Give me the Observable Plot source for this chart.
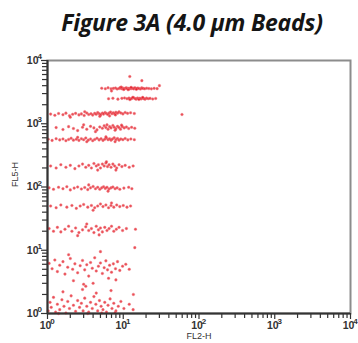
<!DOCTYPE html>
<html><head><meta charset="utf-8">
<script src="https://cdn.jsdelivr.net/npm/d3@7"></script>
<script src="https://cdn.jsdelivr.net/npm/@observablehq/plot@0.6"></script>
<style>
body{margin:0;background:#fff;}
#title{height:45px;width:358px;position:relative;overflow:visible;}
#title span{position:absolute;left:0;width:384px;top:10px;text-align:center;font:italic bold 23px "Open Sans","Liberation Sans",sans-serif;color:#151515;line-height:24px;white-space:nowrap;letter-spacing:-0.2px;}
</style></head><body>
<div id="title"><span>Figure 3A (4.0 µm Beads)</span></div>
<div id="chart"></div>
<script>
const majorTicks = [1, 10, 100, 1000, 10000];
const tickBase = "10";
const tickExponents = ["0", "1", "2", "3", "4"];
const minorTicks = [2,3,4,5,6,7,8,9,20,30,40,50,60,70,80,90,200,300,400,500,600,700,800,900,2000,3000,4000,5000,6000,7000,8000,9000];
const xLabel = "FL2-H";
const yLabel = "FL5-H";

const popA = [[5.2,3650],[5.8,3580],[6.3,3700],[6.9,3560],[7.4,3620],[7.9,3680],[8.3,3540],[8.8,3610],[9.1,3720],[9.5,3590],[9.9,3660],[10.3,3530],[10.6,3640],[11.0,3700],[11.3,3580],[11.8,3620],[12.1,3540],[12.5,3680],[12.9,3600],[13.4,3650],[13.8,3560],[14.2,3710],[14.7,3620],[15.1,3580],[15.6,3660],[16.2,3600],[16.9,3540],[17.5,3690],[18.3,3620],[19.2,3570],[20.4,3650],[21.8,3600],[23.5,3560],[25.6,3630],[28.0,3590],[10.1,3480],[12.7,3760],[14.9,3500],[9.4,3800],[11.6,3450],[12.2,5580],[17.6,4800],[30,4000],[7.0,3300]];
const popB = [[6.4,2480],[7.3,2530],[8.5,2450],[9.6,2520],[10.4,2560],[11.2,2490],[11.9,2540],[12.6,2470],[13.1,2530],[13.7,2580],[14.3,2500],[14.8,2450],[15.4,2550],[15.9,2490],[16.6,2530],[17.2,2470],[17.9,2560],[18.6,2500],[19.4,2450],[20.3,2540],[21.4,2490],[22.6,2520],[24.5,2460],[26.8,2510],[13.4,2620],[16.1,2420],[18.1,2610],[12.2,2410]];
const popC = [[1.1,1420],[1.25,1360],[1.4,1450],[1.6,1390],[1.75,1470],[1.95,1340],[2.15,1410],[2.35,1460],[2.6,1380],[2.8,1430],[3.05,1350],[3.3,1480],[3.5,1400],[3.75,1440],[3.95,1370],[4.2,1460],[4.4,1410],[4.6,1500],[4.85,1430],[5.05,1380],[5.3,1470],[5.5,1420],[5.75,1510],[6.0,1450],[6.25,1400],[6.5,1480],[6.8,1530],[7.1,1440],[7.4,1490],[7.7,1420],[8.0,1520],[8.4,1470],[8.8,1540],[9.3,1480],[9.9,1430],[10.6,1510],[11.4,1460],[12.5,1490],[14.0,1450],[4.9,1310],[6.6,1330],[3.1,1550],[7.9,1380],[2.0,1270],[59.6,1400]];
const popD = [[1.3,870],[1.6,810],[1.9,900],[2.2,840],[2.5,780],[2.9,880],[3.3,820],[3.7,910],[4.1,860],[4.5,800],[4.9,890],[5.3,850],[5.6,930],[5.9,870],[6.3,820],[6.6,900],[6.9,860],[7.3,940],[7.6,880],[8.0,830],[8.4,910],[8.8,870],[9.2,820],[9.7,900],[10.3,860],[11.0,890],[11.8,840],[12.9,880],[14.2,850],[6.1,960],[7.8,790],[3.0,960],[4.3,750],[9.5,950]];
const popE = [[1.02,570],[1.15,545],[1.3,580],[1.45,555],[1.6,575],[1.75,540],[1.9,565],[2.05,590],[2.2,550],[2.4,570],[2.6,545],[2.8,580],[3.0,560],[3.2,595],[3.45,550],[3.7,575],[3.95,540],[4.2,565],[4.5,590],[4.8,555],[5.1,580],[5.4,545],[5.7,570],[6.0,595],[6.3,560],[6.6,580],[6.9,550],[7.2,575],[7.6,600],[8.0,560],[8.4,585],[8.8,550],[9.3,575],[9.9,560],[10.6,585],[11.5,555],[12.6,575],[14.0,560],[3.3,520],[5.9,620],[7.8,520],[2.5,610]];
const popF = [[1.1,215],[1.3,200],[1.5,225],[1.75,205],[2.0,220],[2.3,195],[2.6,215],[2.9,230],[3.2,205],[3.5,220],[3.8,200],[4.1,235],[4.4,215],[4.7,225],[5.0,200],[5.3,230],[5.6,215],[5.9,240],[6.2,210],[6.5,225],[6.9,205],[7.3,230],[7.7,215],[8.2,200],[8.8,225],[9.6,210],[10.6,220],[12.0,205],[13.5,215],[4.6,185],[6.0,250],[8.0,185]];
const popG = [[1.05,97],[1.2,92],[1.4,99],[1.6,94],[1.8,101],[2.0,90],[2.25,96],[2.5,100],[2.8,93],[3.1,98],[3.4,91],[3.7,97],[4.0,102],[4.3,94],[4.6,99],[4.9,92],[5.2,97],[5.5,101],[5.8,95],[6.1,99],[6.5,93],[6.9,97],[7.3,100],[7.8,94],[8.3,97],[9.0,92],[10.2,96],[11.8,99],[13.0,94],[3.5,108],[6.3,86]];
const popH = [[1.1,50],[1.3,47],[1.5,52],[1.8,48],[2.1,51],[2.4,46],[2.7,50],[3.0,53],[3.4,48],[3.8,51],[4.2,47],[4.6,50],[5.0,54],[5.4,49],[5.9,52],[6.4,47],[6.9,51],[7.5,48],[8.2,52],[9.0,49],[10.0,51],[11.2,48],[12.5,50],[4.0,43],[7.0,56]];
const popI = [[1.05,22],[1.2,20],[1.35,23],[1.5,19.5],[1.7,21.5],[1.9,24],[2.1,20],[2.35,22.5],[2.6,19],[2.9,21],[3.2,23.5],[3.5,20.5],[3.8,22],[4.1,19],[4.4,24],[4.7,21],[5.0,22.5],[5.3,19.5],[5.7,23],[6.1,20.5],[6.5,22],[7.0,24],[7.5,20],[8.1,21.5],[8.8,23],[9.8,20.5],[11.0,22],[14.5,21.5],[2.5,17],[4.8,17.5],[3.3,26]];
const popJ = [[1.05,6.2],[1.15,5.1],[1.25,7.0],[1.35,4.6],[1.45,5.8],[1.6,6.6],[1.7,4.2],[1.85,5.4],[2.0,7.4],[2.15,5.0],[2.3,6.1],[2.5,4.4],[2.7,5.7],[2.9,6.9],[3.1,4.9],[3.3,5.9],[3.5,3.9],[3.7,6.4],[3.9,5.2],[4.2,7.6],[4.4,4.7],[4.7,5.6],[5.0,6.3],[5.3,4.3],[5.6,5.3],[5.9,6.8],[6.2,4.9],[6.6,5.8],[7.0,4.5],[7.4,6.1],[7.9,5.1],[8.4,6.6],[9.0,4.8],[9.8,5.6],[10.8,6.0],[12.0,5.0],[2.2,3.3],[4.0,3.0],[6.4,3.6],[1.9,8.5],[3.2,2.7],[8.0,3.4],[5.0,9.5],[14.2,11]];
const popK = [[1.02,1.1],[1.08,1.5],[1.12,1.25],[1.2,1.8],[1.28,1.05],[1.35,1.4],[1.45,1.15],[1.55,1.65],[1.65,1.3],[1.75,1.02],[1.85,1.55],[1.95,1.2],[2.05,1.9],[2.2,1.35],[2.35,1.08],[2.5,1.6],[2.65,1.25],[2.8,1.45],[2.95,1.1],[3.1,1.75],[3.3,1.3],[3.5,1.05],[3.7,1.5],[3.9,1.2],[4.1,1.85],[4.35,1.4],[4.6,1.1],[4.85,1.6],[5.1,1.3],[5.4,1.15],[5.7,1.5],[6.0,1.05],[6.3,1.35],[6.7,1.7],[7.1,1.2],[7.5,1.45],[8.0,1.1],[8.6,1.3],[9.3,1.55],[10.2,1.2],[12.0,1.4],[13.5,1.15],[1.6,2.2],[2.9,2.4],[4.4,2.1],[6.9,2.3],[3.4,1.0],[5.2,1.02],[7.8,1.03],[1.4,1.0],[3.0,2.9],[13.6,2.0]];

const points = [popA,popB,popC,popD,popE,popF,popG,popH,popI,popJ,popK].flat().map(([x,y]) => ({x,y}));
const expOf = d => tickExponents[majorTicks.indexOf(d)];
const lab = {fill: "#333", fontWeight: "bold", stroke: "white", strokeWidth: 0};

const chart = Plot.plot({
  width: 358, height: 298,
  marginTop: 15, marginBottom: 30, marginLeft: 47, marginRight: 8,
  style: {fontFamily: "Liberation Sans, Arial, sans-serif", background: "#fff"},
  x: {type: "log", domain: [1, 10000], axis: null},
  y: {type: "log", domain: [1, 10000], axis: null},
  marks: [
    Plot.frame({stroke: "#8c8c8c", strokeWidth: 2}),
    Plot.dot(points, {x: "x", y: "y", r: 1.3, fill: "#e3141e", fillOpacity: 0.75, stroke: "#f07a82", strokeOpacity: 0.45, strokeWidth: 1}),
    Plot.ruleX([1], {stroke: "#333", strokeWidth: 2}),
    Plot.ruleY([1], {stroke: "#333", strokeWidth: 2}),
    Plot.axisX(minorTicks, {tickSize: 5, tickFormat: () => "", label: null, stroke: "#333", strokeWidth: 1.2}),
    Plot.axisX(majorTicks, {tickSize: 6, tickFormat: () => "", label: null, stroke: "#333", strokeWidth: 1.2}),
    Plot.axisY(minorTicks, {anchor: "left", tickSize: 5, tickFormat: () => "", label: null, stroke: "#333", strokeWidth: 1.2}),
    Plot.axisY(majorTicks, {anchor: "left", tickSize: 6, tickFormat: () => "", label: null, stroke: "#333", strokeWidth: 1.2}),
    Plot.text(majorTicks, {x: d => d, text: () => tickBase, frameAnchor: "bottom", dy: 15, dx: -2, fontSize: 10.5, ...lab}),
    Plot.text(majorTicks, {x: d => d, text: expOf, frameAnchor: "bottom", dy: 10, dx: 5, fontSize: 8, ...lab}),
    Plot.text(majorTicks, {y: d => d, text: () => tickBase, frameAnchor: "left", dx: -9, textAnchor: "end", fontSize: 10.5, ...lab}),
    Plot.text(majorTicks, {y: d => d, text: expOf, frameAnchor: "left", dx: -10, dy: -4, textAnchor: "start", fontSize: 8, ...lab}),
    Plot.text([xLabel], {text: d => d, frameAnchor: "bottom", dy: 25, fontSize: 9, fill: "#333"}),
    Plot.text([yLabel], {text: d => d, frameAnchor: "left", dx: -32, rotate: -90, fontSize: 9, fill: "#333"})
  ]
});
document.getElementById("chart").appendChild(chart);
</script>
</body></html>
